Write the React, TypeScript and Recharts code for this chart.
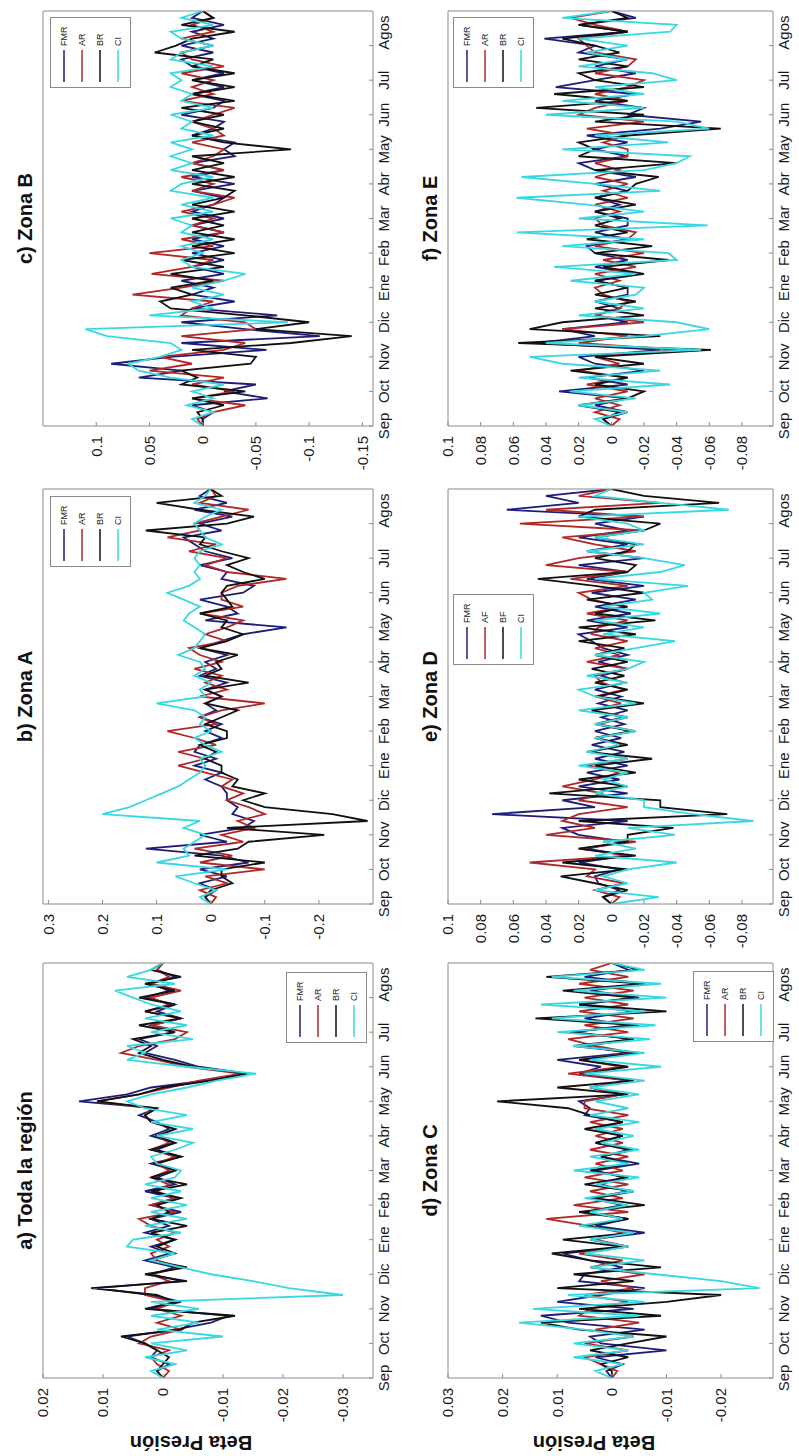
import { LineChart, Line, XAxis, YAxis, Legend } from 'recharts'

// time axis: months since 1 Sep (0 = Sep ... 12 = end of Aug)
const T = [
  0, 0.2, 0.4, 0.6, 0.8, 1, 1.2, 1.4, 1.6, 1.8, 2, 2.2, 2.4, 2.6, 2.8, 3, 3.2, 3.4, 3.6, 3.8,
  4, 4.2, 4.4, 4.6, 4.8, 5, 5.2, 5.4, 5.6, 5.8, 6, 6.2, 6.4, 6.6, 6.8, 7, 7.2, 7.4, 7.6, 7.8,
  8, 8.2, 8.4, 8.6, 8.8, 9, 9.2, 9.4, 9.6, 9.8, 10, 10.2, 10.4, 10.6, 10.8, 11, 11.2, 11.4, 11.6, 11.8,
  12,
]
const MONTHS = ['Sep', 'Oct', 'Nov', 'Dic', 'Ene', 'Feb', 'Mar', 'Abr', 'May', 'Jun', 'Jul', 'Agos']
const MONTH_TICKS = [0, 1, 2, 3, 4, 5, 6, 7, 8, 9, 10, 11]

// a) Toda la región
const A_FMR = [
  0, 0.001, -0.001, 0.002, 0.001, 0.003, 0.006, -0.002, -0.008, -0.011,
  0.002, -0.003, 0.002, 0.011, -0.003, 0.002, -0.002, 0.003, -0.001, 0.002,
  -0.002, 0.003, -0.001, 0.002, -0.003, 0.002, -0.002, 0.003, -0.002, 0.001,
  -0.002, 0.002, -0.003, 0.001, -0.002, 0.002, -0.001, 0.001, 0.004, 0.001,
  0.014, 0.006, 0.002, -0.007, -0.014, -0.006, -0.002, 0.003, 0.001, 0.004,
  -0.002, 0.002, -0.003, 0.001, -0.002, 0.003, -0.001, 0.002, -0.002, 0.001,
  0,
]
const A_AR = [
  0, -0.001, 0.001, 0.002, -0.001, 0.004, 0.002, -0.003, 0.001, -0.003,
  0.001, -0.002, 0.003, 0.003, -0.001, 0.002, -0.003, 0.001, 0.002, -0.001,
  0.001, -0.002, 0.002, 0.004, -0.002, 0.002, -0.002, 0.001, -0.001, 0.002,
  -0.001, 0.001, -0.002, 0.002, -0.001, 0.001, -0.002, 0.002, 0.003, 0.002,
  0.011, 0.004, -0.001, -0.006, -0.013, -0.004, 0.001, 0.007, 0.004, -0.002,
  -0.004, 0.002, -0.003, 0.003, -0.001, 0.002, -0.003, 0.002, -0.001, 0.001,
  0,
]
const A_BR = [
  0, 0.001, 0, -0.001, 0.001, 0.003, 0.007, -0.003, -0.005, -0.012,
  0.003, -0.002, 0.001, 0.012, -0.004, 0.003, -0.004, 0.002, -0.002, 0.001,
  -0.002, 0.002, -0.004, 0.002, -0.001, 0.001, -0.003, 0.002, -0.004, 0.002,
  -0.002, 0.001, -0.003, 0.002, -0.002, 0.001, -0.002, 0.002, 0.003, 0.001,
  0.011, 0.004, 0, -0.008, -0.014, -0.005, 0, 0.004, 0.002, 0.005,
  -0.002, 0.004, -0.003, 0.003, -0.002, 0.004, -0.002, 0.003, -0.003, 0.002,
  0,
]
const A_CI = [
  0, 0.002, -0.002, 0.003, -0.004, 0.002, -0.01, 0.001, -0.006, 0.002,
  -0.006, 0.002, -0.03, -0.021, -0.015, -0.008, -0.003, 0.002, -0.002, 0.006,
  0.005, -0.003, 0.003, -0.004, 0.002, -0.004, 0.002, -0.003, 0.003, -0.002,
  -0.003, 0.001, 0.002, -0.002, -0.005, 0.001, -0.005, 0.002, -0.004, 0.003,
  0.006, 0.002, -0.004, -0.009, -0.0155, -0.004, 0.006, 0.003, 0.006, -0.005,
  0.002, -0.004, 0.003, -0.003, 0.002, 0.005, 0.008, -0.002, 0.006, 0.002,
  0,
]

// b) Zona A
const B_FMR = [
  0, 0.01, -0.01, 0.02, -0.03, 0.02, -0.07, -0.02, 0.12, -0.03,
  0.02, -0.06, -0.08, -0.04, -0.05, -0.03, -0.03, -0.02, 0.01, -0.02,
  0.03, -0.01, 0.03, 0.02, -0.02, 0.01, -0.02, 0.02, -0.01, 0.01,
  -0.02, 0.01, -0.03, 0.02, -0.01, 0.01, -0.03, 0.02, -0.02, -0.06,
  -0.14, 0.01, -0.05, -0.03, 0.02, -0.06, -0.08, -0.02, -0.03, 0.02,
  -0.04, 0.01, 0.03, 0.05, -0.02, 0.02, -0.04, 0.03, -0.03, 0.02,
  0,
]
const B_AR = [
  0, -0.01, 0.02, -0.03, 0.01, -0.1, 0.02, -0.04, 0.03, -0.06,
  -0.02, -0.08, -0.05, -0.1, -0.07, -0.03, -0.06, -0.02, -0.04, 0.01,
  0.06, 0.01, 0.06, -0.01, 0.03, 0.08, -0.01, 0.02, -0.02, -0.1,
  0.02, -0.03, 0.01, -0.02, 0.03, -0.02, 0.02, 0.04, -0.03, 0.01,
  -0.03, -0.06, 0.02, -0.06, -0.02, -0.02, -0.05, -0.14, -0.03, 0.01,
  -0.03, 0.04, -0.01, 0.08, 0.02, 0.03, -0.02, -0.07, 0.02, -0.01,
  0,
]
const B_BR = [
  0, 0.01, 0, -0.04, -0.02, -0.02, -0.1, 0.03, -0.05, -0.07,
  -0.21, -0.03, -0.29, -0.225, -0.1, -0.06, -0.1, -0.04, -0.05, -0.02,
  -0.02, 0.01, -0.01, 0.02, -0.03, -0.03, 0.01, -0.02, -0.05, 0.01,
  -0.02, 0.01, -0.07, 0.01, -0.02, -0.01, -0.05, 0.02, -0.03, -0.06,
  -0.02, -0.03, 0.02, -0.04, -0.03, -0.02, -0.03, -0.1, -0.06, -0.03,
  -0.07, -0.02, 0.02, 0.01, 0.12, -0.03, -0.08, 0.02, 0.1, -0.02,
  0,
]
const B_CI = [
  0, 0.02, -0.01, 0.03, 0.065, -0.03, 0.1, 0.04, 0.05, 0.03,
  0.01, 0.05, 0.02, 0.2, 0.15, 0.12, 0.09, 0.06, 0.04, 0.02,
  0.01, 0.02, -0.02, 0.01, 0.03, 0, 0.02, 0.01, 0.03, 0.1,
  0.01, 0.02, 0, 0.03, 0.01, 0.02, 0.06, 0.03, 0.02, 0.01,
  0.03, 0.05, 0.04, 0.02, 0.05, 0.08, 0.04, 0.02, 0.03, 0.02,
  0.03, 0.02, -0.02, 0.01, 0.02, 0.03, 0.01, -0.02, 0.03, 0.01,
  0,
]

// c) Zona B
const C_FMR = [
  0, 0, -0.01, 0.01, -0.061, -0.02, -0.05, 0.06, 0.02, 0.086,
  0.03, -0.06, 0.02, -0.11, -0.04, 0.02, -0.07, 0.01, -0.03, 0.01,
  -0.01, 0.02, -0.02, 0.01, -0.02, 0.01, -0.02, 0.01, -0.02, 0.01,
  -0.02, 0.01, -0.01, -0.02, 0.01, -0.03, 0.01, -0.02, 0.01, -0.03,
  -0.02, -0.03, 0.01, -0.01, -0.02, 0.02, -0.01, -0.02, 0.01, -0.02,
  0.01, -0.02, 0.01, 0.02, -0.01, 0.02, -0.01, 0.01, -0.02, 0.01,
  0,
]
const C_AR = [
  0, 0.005, -0.01, -0.04, 0.01, -0.03, 0.01, -0.02, 0.05, 0.01,
  0.04, -0.02, -0.04, 0.02, -0.05, -0.04, 0.02, 0.01, -0.01, 0.066,
  0.02, -0.02, 0.048, 0.01, -0.01, 0.05, -0.01, 0.02, -0.02, 0.01,
  -0.01, 0.02, -0.01, -0.03, 0.01, -0.01, 0.02, -0.02, 0.01, -0.01,
  -0.02, 0.01, -0.02, -0.01, 0.01, -0.01, -0.03, 0.02, -0.01, 0.01,
  -0.01, 0.02, -0.02, 0.01, 0.02, -0.01, 0.02, -0.01, 0.01, -0.01,
  0,
]
const C_BR = [
  0, 0, 0.005, -0.02, 0.01, -0.04, 0.02, 0.005, 0.02, -0.045,
  -0.05, 0.01, -0.083, -0.14, -0.05, -0.1, -0.04, 0.03, 0.04, 0.01,
  0.03, -0.01, 0.03, -0.02, 0.02, -0.03, 0.01, -0.03, 0.01, -0.02,
  0.01, -0.03, 0.01, -0.02, -0.03, 0.01, -0.03, 0.01, -0.02, 0.01,
  -0.083, -0.02, 0.01, -0.02, 0.01, -0.02, 0.02, -0.03, 0.01, -0.03,
  0.01, -0.03, 0.01, -0.01, 0.045, 0.025, 0.01, -0.03, 0.02, -0.01,
  0,
]
const C_CI = [
  0, 0.01, -0.01, 0.015, -0.01, 0.01, -0.02, 0.03, 0.06, 0.07,
  0.04, 0.02, 0.03, 0.09, 0.11, -0.08, 0.05, -0.01, 0.01, -0.02,
  0.01, -0.02, -0.04, 0.01, 0.02, 0, 0.02, -0.01, 0.02, 0.01,
  0.03, -0.01, 0.02, -0.01, 0.03, 0.02, -0.01, 0.03, 0.01, 0.03,
  0.01, 0.03, -0.01, 0.02, 0.01, 0.03, -0.01, 0.02, 0.01, 0.03,
  0.02, 0.03, -0.01, 0.03, 0.02, -0.01, 0.02, 0.03, -0.01, 0.02,
  0,
]

// d) Zona C
const D_FMR = [
  0, 0.001, -0.002, 0.003, -0.01, 0.002, 0.004, -0.006, 0.008, 0.013,
  -0.004, 0.01, 0.002, -0.006, 0.006, 0.005, -0.002, 0.004, 0.009, -0.003,
  0.004, -0.006, 0.003, -0.003, 0.005, -0.002, 0.004, -0.003, 0.002, -0.002,
  0.003, -0.005, 0.002, -0.003, 0.003, -0.002, 0.003, -0.002, 0.005, 0.004,
  0.006, -0.002, 0.004, -0.003, 0.006, 0.002, 0.01, -0.003, 0.005, -0.004,
  0.007, -0.003, 0.005, -0.004, 0.006, -0.005, 0.004, -0.006, 0.005, -0.003,
  0,
]
const D_AR = [
  0, -0.001, 0.002, 0.005, -0.003, 0.005, -0.004, 0.003, -0.005, 0.006,
  0.004, -0.003, 0.005, -0.004, 0.002, -0.006, 0.004, -0.002, 0.006, -0.003,
  0.003, -0.002, 0.004, 0.012, -0.003, 0.007, -0.002, 0.004, -0.003, 0.005,
  -0.002, 0.003, -0.003, 0.004, -0.002, 0.003, -0.002, 0.004, -0.003, 0.005,
  0.005, -0.002, 0.004, -0.003, 0.008, -0.002, 0.006, -0.004, 0.003, 0.008,
  -0.003, 0.005, -0.004, 0.006, -0.003, 0.005, -0.004, 0.006, -0.003, 0.004,
  0,
]
const D_BR = [
  0, 0, 0.002, -0.003, 0.004, -0.003, -0.01, 0.006, 0.013, -0.009,
  0.006, -0.01, -0.02, 0.01, -0.004, 0.007, -0.009, 0.004, 0.011, -0.002,
  0.009, -0.004, 0.005, -0.003, 0.006, -0.006, 0.003, -0.004, 0.005, -0.003,
  0.004, -0.003, 0.002, -0.004, 0.003, -0.002, 0.005, -0.002, 0.004, 0.008,
  0.021, -0.003, 0.01, -0.004, 0.005, -0.003, 0.006, -0.005, 0.007, -0.004,
  0.008, -0.005, 0.014, -0.01, 0.006, -0.004, 0.009, -0.006, 0.012, -0.005,
  0,
]
const D_CI = [
  0, 0.003, -0.002, 0.007, -0.003, 0.007, -0.004, 0.005, 0.017, -0.005,
  0.0145, -0.006, 0.008, -0.027, -0.02, -0.008, 0.004, -0.006, 0.005, -0.003,
  0.004, -0.004, 0.006, -0.002, 0.004, -0.003, 0.005, -0.004, 0.003, -0.005,
  0.007, -0.003, 0.004, -0.005, 0.002, -0.004, 0.003, -0.005, 0.004, -0.003,
  0.003, -0.005, 0.004, -0.006, 0.005, -0.009, 0.004, -0.006, 0.007, -0.007,
  0.01, -0.008, 0.011, -0.006, 0.013, -0.01, 0.007, -0.009, 0.011, -0.006,
  0,
]

// e) Zona D
const E_FMR = [
  0, 0.005, -0.005, 0.008, 0.01, -0.005, 0.02, -0.01, 0.015, -0.008,
  0.02, 0.03, -0.01, 0.073, 0.01, 0.03, -0.01, 0.02, -0.005, 0.015,
  -0.01, 0.01, -0.008, 0.012, -0.006, 0.01, -0.008, 0.006, -0.01, 0.008,
  -0.006, 0.01, -0.008, 0.006, -0.01, 0.008, -0.01, 0.005, 0.012, 0.02,
  -0.01, 0.015, -0.012, 0.01, -0.015, 0.012, -0.02, 0.015, -0.01, 0.02,
  -0.02, 0.015, -0.01, 0.02, -0.01, 0.01, -0.02, 0.064, 0.02, 0.04,
  0,
]
const E_AR = [
  0, -0.005, 0.01, -0.008, 0.015, 0.01, 0.05, -0.01, 0.02, -0.015,
  0.04, 0.01, 0.03, 0.02, -0.01, 0.02, 0.005, 0.03, 0.01, -0.005,
  0.015, -0.01, 0.012, -0.006, 0.01, -0.015, 0.008, -0.01, 0.012, -0.006,
  0.01, -0.008, 0.006, 0.01, -0.01, 0.015, -0.005, 0.01, -0.01, 0.012,
  0.008, -0.01, 0.015, -0.008, 0.012, 0.02, -0.01, 0.025, -0.01, 0.04,
  0.02, -0.015, 0.01, 0.03, -0.02, 0.056, -0.02, 0.04, -0.03, 0.02,
  0,
]
const E_BR = [
  0, 0.005, -0.01, 0.01, 0.031, -0.01, 0.03, -0.015, 0.02, -0.01,
  -0.01, -0.038, 0.02, -0.071, -0.03, -0.03, 0.038, -0.01, 0.02, -0.015,
  0.01, -0.025, 0.015, -0.01, 0.01, -0.012, 0.01, -0.008, 0.012, -0.02,
  0.008, -0.01, 0.01, -0.008, 0.012, -0.01, 0.01, -0.008, 0.02, -0.015,
  0.02, -0.027, 0.01, -0.01, 0.015, -0.02, 0.01, 0.045, -0.01, -0.015,
  0.01, -0.01, -0.015, 0.01, -0.02, -0.03, 0.02, 0.01, -0.066, -0.02,
  0,
]
const E_CI = [
  0, -0.029, 0.01, -0.01, 0.005, -0.01, -0.04, 0.01, -0.015, 0.005,
  -0.039, -0.01, -0.087, -0.05, -0.02, -0.02, 0.01, -0.01, 0.005, -0.01,
  0.02, -0.01, 0.015, -0.005, 0.01, -0.015, 0.01, -0.01, 0.02, -0.015,
  0.01, 0.02, -0.01, 0.015, -0.01, -0.02, 0.01, -0.015, -0.039, 0.005,
  -0.02, 0.01, -0.03, 0.005, -0.025, -0.02, -0.047, 0.01, -0.03, -0.045,
  -0.02, 0.015, -0.02, 0.01, -0.02, -0.01, 0.02, -0.072, -0.03, 0.01,
  0,
]

// f) Zona E
const F_FMR = [
  0, 0.005, -0.01, 0.01, -0.01, 0.032, -0.01, 0.015, -0.02, 0.01,
  0.02, -0.03, 0.045, 0.01, 0.03, -0.01, 0.01, -0.005, 0.01, -0.01,
  -0.01, 0.01, -0.015, 0.01, -0.01, 0.01, 0.015, -0.01, 0.01, -0.01,
  -0.01, 0.01, -0.005, 0.01, -0.01, 0.01, -0.015, 0.01, 0.02, -0.01,
  0.01, -0.01, 0.015, -0.03, -0.055, -0.01, -0.02, 0.01, -0.015, 0.034,
  0.01, -0.015, 0.01, -0.01, 0.02, 0.01, 0.041, -0.01, 0.02, -0.015,
  0,
]
const F_AR = [
  0, -0.005, 0.01, -0.005, 0.01, -0.01, 0.015, -0.01, 0.02, -0.005,
  0.01, -0.04, 0.02, -0.01, 0.03, -0.02, 0.01, -0.005, -0.01, 0.005,
  0.01, -0.005, 0.01, -0.015, 0.005, -0.02, 0.01, -0.01, -0.015, 0.005,
  0.01, -0.005, 0.01, -0.01, 0.005, -0.01, 0.01, -0.005, 0.01, -0.01,
  -0.01, 0.005, -0.01, 0.015, -0.02, 0.02, 0.01, -0.01, 0.01, -0.01,
  -0.02, 0.01, -0.01, -0.015, 0.01, 0.015, 0.02, -0.01, 0.01, 0.025,
  0,
]
const F_BR = [
  0, 0.005, -0.005, 0.02, -0.01, -0.02, 0.01, -0.01, 0.025, -0.02,
  0.01, -0.061, 0.057, -0.03, 0.05, 0.03, -0.02, 0.01, -0.015, 0.01,
  -0.01, 0.01, -0.02, 0.005, -0.035, 0.01, -0.025, 0.015, -0.01, 0.01,
  -0.005, 0.01, -0.015, 0.01, -0.01, -0.015, -0.029, 0.01, -0.04, 0.02,
  0.01, 0.02, -0.01, -0.067, 0.01, -0.02, 0.046, -0.01, 0.035, -0.02,
  0.01, 0.02, -0.01, 0.02, -0.005, 0.01, 0.03, -0.01, 0.02, -0.01,
  0,
]
const F_CI = [
  0, 0.01, -0.01, 0.02, -0.015, 0.025, -0.036, 0.02, -0.03, 0.03,
  0.05, -0.055, 0.04, -0.02, -0.06, -0.04, 0.02, -0.02, 0.01, -0.015,
  -0.02, 0.025, -0.015, 0.035, -0.04, -0.035, 0.03, -0.02, 0.058, -0.059,
  0.02, -0.02, 0.015, 0.058, -0.03, 0.01, 0.055, -0.02, -0.04, -0.048,
  0.03, -0.035, 0.01, -0.06, -0.04, 0.04, -0.02, 0.03, -0.02, 0.01,
  -0.04, -0.025, 0.02, -0.01, 0.015, -0.01, 0.02, -0.036, -0.04, 0.03,
  0,
]

const KEYS = ['FMR', 'AR', 'BR', 'CI']
const COLORS = ['#1e1e78', '#b02828', '#111111', '#38d8e2']
const LABELS = ['FMR', 'AR', 'BR', 'CI']
const LABELS_E = ['FMR', 'AF', 'BF', 'CI']

const FONT = '"Liberation Sans", Arial, Helvetica, sans-serif'
const AXIS = '#8a8a8a'
const Y_W = 70
const X_H = 30
const PAD_T = 12 // room for the top tick label
const PLOT_T = PAD_T + 1 // top mirrored axis is 1px tall

function rows(fmr: number[], ar: number[], br: number[], ci: number[]) {
  return T.map((t, i) => ({ t, FMR: fmr[i], AR: ar[i], BR: br[i], CI: ci[i] }))
}

const MonthTick = (props: any) => {
  const { x, y, payload } = props
  const label = MONTHS[payload.value]
  return (
    <text x={x + (label === 'Agos' ? 13 : 0)} y={y} dy={14} textAnchor="middle" fontSize={15} fontFamily={FONT} fill="#1a1a1a">
      {label}
    </text>
  )
}

const makeLegend = (w: number, h: number) => (props: any) => {
  const items = [...(props.payload || [])].sort((a: any, b: any) => KEYS.indexOf(a.dataKey) - KEYS.indexOf(b.dataKey))
  return (
    <div style={{ width: w, height: h, boxSizing: 'border-box', border: `1px solid ${AXIS}`, background: '#fff', padding: '4px 0 0 5px' }}>
      {items.map((p: any, i: number) => (
        <div key={i} style={{ display: 'flex', alignItems: 'center', height: 18 }}>
          <svg width={32} height={4}>
            <line x1={0} y1={2} x2={32} y2={2} stroke={p.color} strokeWidth={1.5} />
          </svg>
          <span style={{ fontSize: 9, fontFamily: FONT, marginLeft: 4, color: '#222', lineHeight: '10px' }}>{p.value}</span>
        </div>
      ))}
    </div>
  )
}

interface PanelProps {
  title: string
  data: any[]
  domain: number[]
  ticks: number[]
  left: number
  top: number
  w: number
  h: number
  labels: string[]
  legX: number
  legY: number
  ylabel?: boolean
}

function Panel({ title, data, domain, ticks, left, top, w, h, labels, legX, legY, ylabel }: PanelProps) {
  const cw = w + Y_W + 1
  const ch = h + X_H + PLOT_T
  return (
    <div style={{ position: 'absolute', left: left - Y_W, top: top - PLOT_T, width: cw, height: ch }}>
      <div style={{ position: 'absolute', left: Y_W, top: PLOT_T - 30, width: w, height: 24, lineHeight: '24px', textAlign: 'center', fontFamily: FONT, fontWeight: 'bold', fontSize: 20, color: '#111', whiteSpace: 'nowrap' }}>
        {title}
      </div>
      {ylabel && (
        <div style={{ position: 'absolute', left: 13 - (left - Y_W) - 100, top: PLOT_T + h / 2 - 17 - 12, width: 200, height: 24, lineHeight: '24px', textAlign: 'center', transform: 'rotate(-90deg)', fontFamily: FONT, fontWeight: 'bold', fontSize: 20, color: '#111' }}>
          Beta Presión
        </div>
      )}
      <LineChart width={cw} height={ch} data={data} margin={{ top: PAD_T, right: 0, bottom: 0, left: 0 }}>
        <XAxis xAxisId="b" dataKey="t" type="number" domain={[0, 12]} ticks={MONTH_TICKS} height={X_H}
          stroke={AXIS} tickSize={-4} tickMargin={6} tick={<MonthTick />} interval={0} allowDataOverflow />
        <XAxis xAxisId="t" dataKey="t" type="number" orientation="top" domain={[0, 12]} ticks={MONTH_TICKS} height={1}
          stroke={AXIS} tickSize={-4} tick={false} interval={0} allowDataOverflow />
        <YAxis yAxisId="l" type="number" domain={domain} ticks={ticks} width={Y_W} stroke={AXIS}
          tickSize={-4} tickMargin={14} interval={0} allowDataOverflow
          tick={{ fontSize: 15, fontFamily: FONT, fill: '#1a1a1a' }} />
        <YAxis yAxisId="r" type="number" orientation="right" domain={domain} ticks={ticks} width={1} stroke={AXIS}
          tickSize={-4} tick={false} interval={0} allowDataOverflow />
        <Legend layout="vertical" align="center" verticalAlign="middle" content={makeLegend(71, 81)}
          wrapperStyle={{ position: 'absolute', left: Y_W + legX, top: PLOT_T + legY, width: 71, height: 81 }} />
        {KEYS.map((k, i) => (
          <Line key={k} xAxisId="b" yAxisId="l" dataKey={k} name={labels[i]} stroke={COLORS[i]} strokeWidth={1.8}
            dot={false} activeDot={false} isAnimationActive={false} type="linear" />
        ))}
      </LineChart>
    </div>
  )
}

const PANELS: PanelProps[] = [
  { title: 'a) Toda la región', data: rows(A_FMR, A_AR, A_BR, A_CI), domain: [-0.035, 0.02], ticks: [-0.03, -0.02, -0.01, 0, 0.01, 0.02],
    left: 78, top: 43, w: 415, h: 330, labels: LABELS, legX: 335, legY: 243, ylabel: true },
  { title: 'b) Zona A', data: rows(B_FMR, B_AR, B_BR, B_CI), domain: [-0.3, 0.31], ticks: [-0.2, -0.1, 0, 0.1, 0.2, 0.3],
    left: 552, top: 43, w: 415, h: 330, labels: LABELS, legX: 337, legY: 7 },
  { title: 'c) Zona B', data: rows(C_FMR, C_AR, C_BR, C_CI), domain: [-0.16, 0.15], ticks: [-0.15, -0.1, -0.05, 0, 0.05, 0.1],
    left: 1030, top: 43, w: 415, h: 330, labels: LABELS, legX: 338, legY: 7 },
  { title: 'd) Zona C', data: rows(D_FMR, D_AR, D_BR, D_CI), domain: [-0.0295, 0.03], ticks: [-0.02, -0.01, 0, 0.01, 0.02, 0.03],
    left: 78, top: 448, w: 415, h: 325, labels: LABELS, legX: 336, legY: 245, ylabel: true },
  { title: 'e) Zona D', data: rows(E_FMR, E_AR, E_BR, E_CI), domain: [-0.099, 0.1], ticks: [-0.08, -0.06, -0.04, -0.02, 0, 0.02, 0.04, 0.06, 0.08, 0.1],
    left: 552, top: 448, w: 415, h: 325, labels: LABELS_E, legX: 239, legY: 5 },
  { title: 'f) Zona E', data: rows(F_FMR, F_AR, F_BR, F_CI), domain: [-0.099, 0.1], ticks: [-0.08, -0.06, -0.04, -0.02, 0, 0.02, 0.04, 0.06, 0.08, 0.1],
    left: 1030, top: 448, w: 415, h: 325, labels: LABELS, legX: 338, legY: 5 },
]

export default function App() {
  return (
    <div style={{ position: 'absolute', left: 0, top: 0, width: 799, height: 1456, overflow: 'hidden', background: '#fff' }}>
      <div style={{ position: 'absolute', left: 0, top: 0, width: 1456, height: 799, transformOrigin: '0 0', transform: 'translate(0px, 1456px) rotate(-90deg)' }}>
        {PANELS.map((p) => (
          <Panel key={p.title} {...p} />
        ))}
      </div>
    </div>
  )
}
